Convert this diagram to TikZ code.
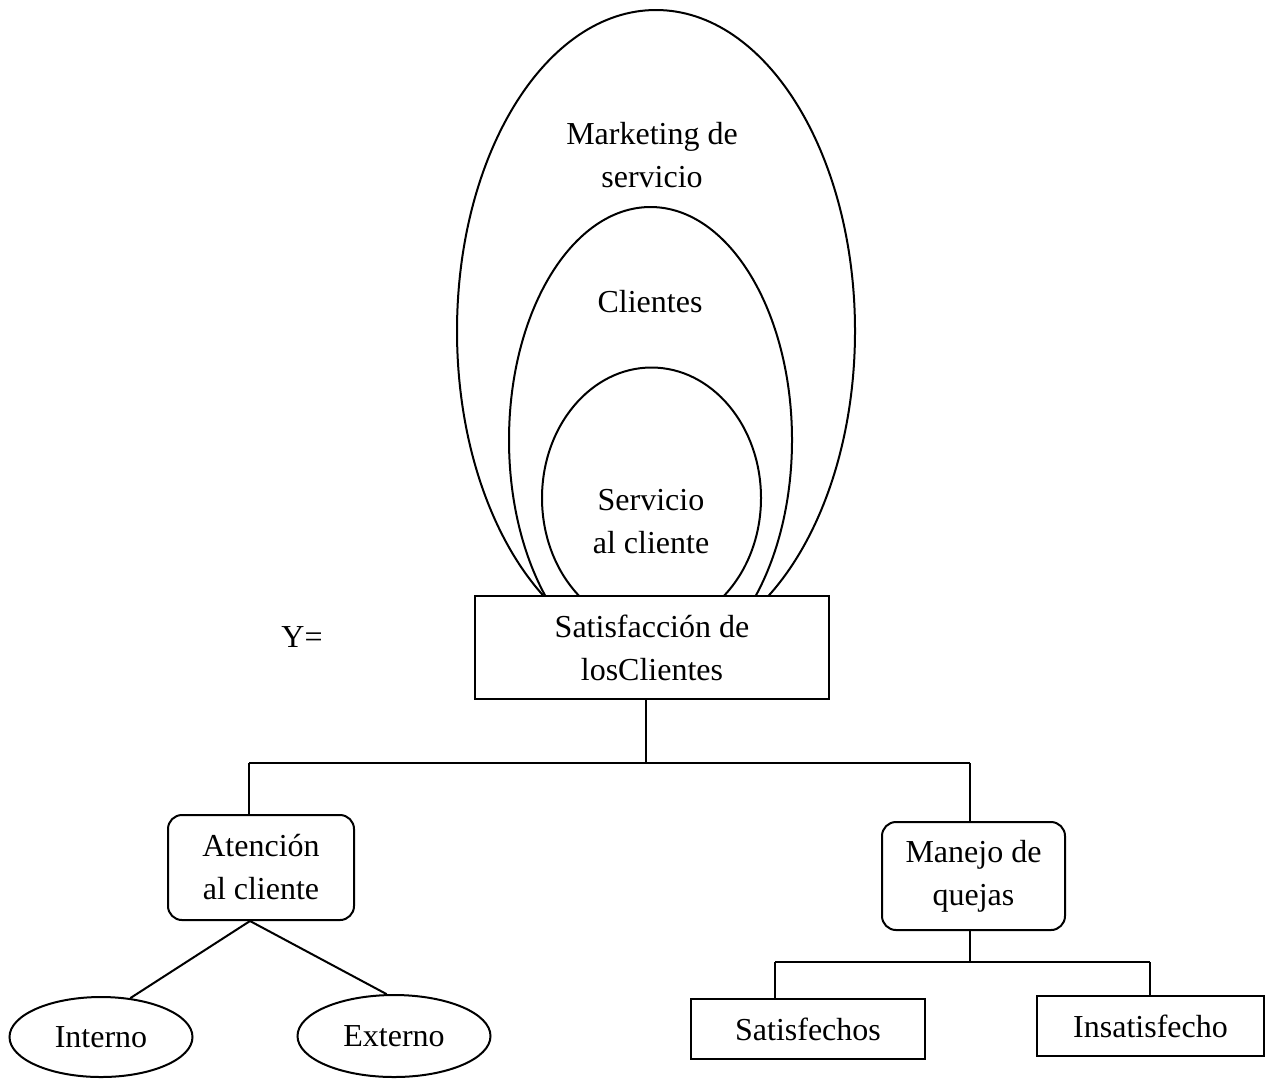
\documentclass[tikz,border=0pt]{standalone}
\usepackage{fontspec}
\setmainfont{Liberation Serif}
\usetikzlibrary{shapes.geometric}
\begin{document}
\begin{tikzpicture}[x=0.5pt,y=-0.5pt,
  every node/.style={font=\fontsize{16}{21.5}\selectfont, align=center},
  line/.style={line width=1pt},
  oval/.style={ellipse, draw, line width=1pt, inner sep=0pt},
  box/.style={rectangle, draw, line width=1pt, fill=white, inner sep=0pt},
  rbox/.style={box, rounded corners=7pt},
  lbl/.style={inner sep=0pt}]
\useasboundingbox (0,0) rectangle (1273,1078);

% nested ovals
\node[oval, minimum width=199pt, minimum height=321pt] (mkt) at (656,331) {};
\node[oval, minimum width=141.5pt, minimum height=233pt] (cli) at (650.5,440) {};
\node[oval, minimum width=109.5pt, minimum height=130.5pt] (ser) at (651.5,498) {};
\node[lbl] (mktlbl) at (652,155) {Marketing de\\servicio};
\node[lbl] (clilbl) at (650,302) {Clientes};
\node[lbl] (serlbl) at (651,522) {Servicio\\al cliente};

% central box
\node[box, minimum width=177pt, minimum height=51.5pt] (sat) at (652,647.5) {Satisfacción de\\losClientes};
\node[lbl] (yeq) at (302,637) {Y=};

% second level
\node[rbox, minimum width=93pt, minimum height=52.5pt] (aten) at (261,867.5) {Atención\\al cliente};
\node[rbox, minimum width=91.5pt, minimum height=54pt] (manejo) at (973.5,876) {Manejo de\\quejas};

% leaves
\node[oval, minimum width=91.5pt, minimum height=40pt] (interno) at (101,1037) {Interno};
\node[oval, minimum width=96.5pt, minimum height=41pt] (externo) at (394,1036) {Externo};
\node[box, minimum width=117pt, minimum height=30pt] (satisf) at (808,1029) {Satisfechos};
\node[box, minimum width=113.5pt, minimum height=30pt] (insat) at (1150.5,1026) {Insatisfecho};

% tree connectors
\coordinate (j1) at (646,763);
\coordinate (bl) at (249,763);
\coordinate (br) at (970,763);
\draw[line] (j1 |- sat.south) -- (j1);
\draw[line] (bl) -- (br);
\draw[line] (bl) -- (bl |- aten.north);
\draw[line] (br) -- (br |- manejo.north);

\coordinate (apex) at ([xshift=-5.5pt]aten.south);
\draw[line] (apex) -- (interno.53);
\draw[line] (apex) -- (externo.100);

\coordinate (j2) at (970,962);
\coordinate (sl) at (775,962);
\coordinate (sr) at (1150,962);
\draw[line] (j2 |- manejo.south) -- (j2);
\draw[line] (sl) -- (sr);
\draw[line] (sl) -- (sl |- satisf.north);
\draw[line] (sr) -- (sr |- insat.north);
\end{tikzpicture}
\end{document}
